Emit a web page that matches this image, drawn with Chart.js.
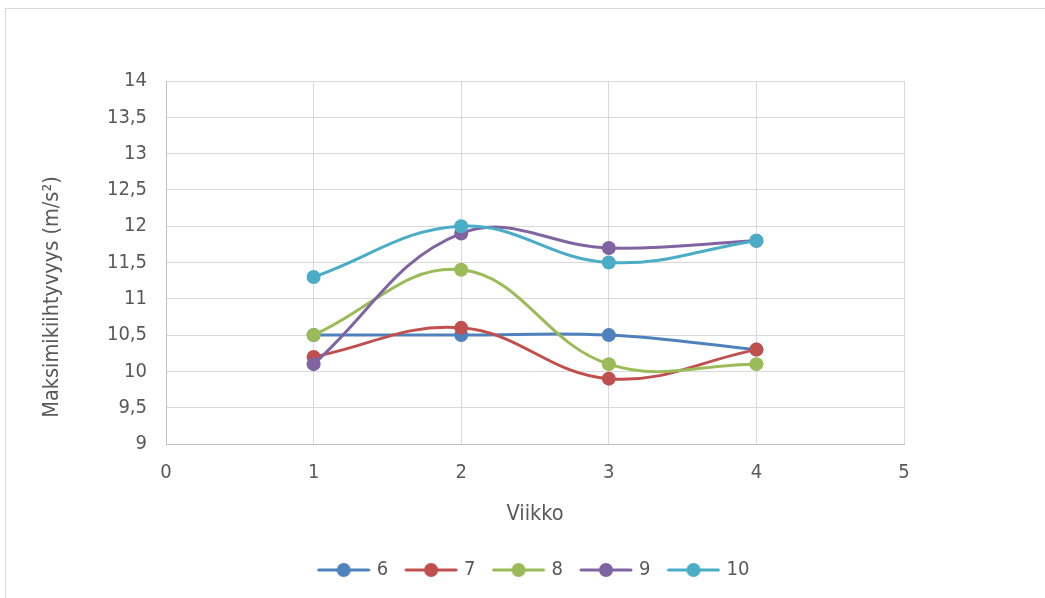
<!DOCTYPE html>
<html lang="fi">

<head>
    <meta charset="UTF-8">
    <script src="https://cdn.jsdelivr.net/npm/chart.js"></script>
    <title>Maksimikiihtyvyys</title>
    <style>
        html, body { margin: 0; padding: 0; overflow: hidden; background: #fff; }
        .kehys { position: absolute; left: 5px; top: 8px; width: 1100px; height: 700px; border: 1px solid #d9d9d9; }
        .kaavio { position: absolute; left: 0; top: 0; width: 1045px; height: 598px; }
    </style>
</head>

<body>
    <div class="kehys"></div>
    <div class="kaavio">
        <canvas id="myChartCanvas" width="1045" height="598"></canvas>
    </div>

<script>
    // viikot ja sarjat
    const viikot = [1, 2, 3, 4];
    const sarjat = ['6', '7', '8', '9', '10'];
    const s6 = [10.5, 10.5, 10.5, 10.3];
    const s7 = [10.2, 10.6, 9.9, 10.3];
    const s8 = [10.5, 11.4, 10.1, 10.1];
    const s9 = [10.1, 11.9, 11.7, 11.8];
    const s10 = [11.3, 12.0, 11.5, 11.8];
    const arvot = [s6, s7, s8, s9, s10];
    const varit = ['#4F81BD', '#C0504D', '#9BBB59', '#8064A2', '#4BACC6'];

    const fontti = "'Liberation Sans Narrow', 'Arial Narrow', 'DejaVu Sans Condensed', sans-serif";
    const harmaa = '#595959';
    const yOtsikko = 'Maksimikiihtyvyys (m/s²)';

    // legendan kuvake: viiva + pallo
    function kuvake(vari) {
        let c = document.createElement('canvas');
        c.width = 54;
        c.height = 16;
        let g = c.getContext('2d');
        g.strokeStyle = vari;
        g.lineWidth = 3;
        g.lineCap = 'round';
        g.beginPath();
        g.moveTo(2, 8);
        g.lineTo(52, 8);
        g.stroke();
        g.fillStyle = vari;
        g.beginPath();
        g.arc(27, 8, 7, 0, Math.PI * 2);
        g.fill();
        return c;
    }

    // y-akselin otsikko vähän keskikohdan alapuolelle, kuten excelissä
    const otsikkoPlugin = {
        id: 'yOtsikko',
        afterDraw(chart) {
            const c = chart.ctx;
            c.save();
            c.translate(52, 297);
            c.rotate(-Math.PI / 2);
            c.font = '21.5px ' + fontti;
            c.fillStyle = harmaa;
            c.textAlign = 'center';
            c.textBaseline = 'middle';
            c.fillText(yOtsikko, 0, 0);
            c.restore();
        }
    };

    let datasets = [];
    for (let i = 0; i < sarjat.length; i++) {
        datasets.push({
            label: sarjat[i],
            data: viikot.map((v, j) => ({ x: v, y: arvot[i][j] })),
            borderColor: varit[i],
            backgroundColor: varit[i],
            borderWidth: 3,
            pointRadius: 7,
            pointHoverRadius: 7,
            pointBorderWidth: 0,
            tension: 0.4,
            fill: false,
            order: sarjat.length - i
        });
    }

    const config = {
        type: 'line',
        data: { datasets: datasets },
        plugins: [otsikkoPlugin],
        options: {
            responsive: false,
            animation: false,
            layout: { padding: { left: 25, right: 0, top: 81, bottom: 8 } },
            plugins: {
                tooltip: { enabled: false },
                legend: {
                    position: 'bottom',
                    labels: {
                        usePointStyle: true,
                        pointStyleWidth: 46,
                        padding: 20,
                        color: harmaa,
                        font: { family: fontti, size: 20 },
                        generateLabels: function (chart) {
                            return chart.data.datasets.map((d, i) => ({
                                text: d.label,
                                pointStyle: kuvake(varit[i]),
                                fillStyle: varit[i],
                                strokeStyle: varit[i],
                                lineWidth: 0,
                                fontColor: harmaa,
                                datasetIndex: i
                            }));
                        }
                    }
                }
            },
            scales: {
                x: {
                    type: 'linear',
                    min: 0,
                    max: 5,
                    ticks: { stepSize: 1, padding: 17, color: harmaa, font: { family: fontti, size: 20 } },
                    grid: { color: '#d9d9d9', drawTicks: false },
                    border: { color: '#bfbfbf' },
                    title: {
                        display: true,
                        text: 'Viikko',
                        color: harmaa,
                        font: { family: fontti, size: 21.5 },
                        padding: { top: 4, bottom: 13 }
                    },
                    afterFit: function (scale) { scale.height = 96; }
                },
                y: {
                    min: 9,
                    max: 14,
                    ticks: {
                        stepSize: 0.5,
                        padding: 19,
                        color: harmaa,
                        font: { family: fontti, size: 20 },
                        callback: (v) => String(v).replace('.', ',')
                    },
                    grid: { color: '#d9d9d9', drawTicks: false },
                    border: { color: '#bfbfbf' },
                    title: { display: false },
                    afterFit: function (scale) { scale.width = 141; }
                },
                oikea: {
                    position: 'right',
                    display: true,
                    ticks: { display: false },
                    grid: { display: false },
                    border: { display: false },
                    afterFit: function (scale) { scale.width = 141; }
                }
            }
        }
    };

    let ctx = document.getElementById('myChartCanvas').getContext('2d');
    let myChart = new Chart(ctx, config);
</script>
</body>

</html>
